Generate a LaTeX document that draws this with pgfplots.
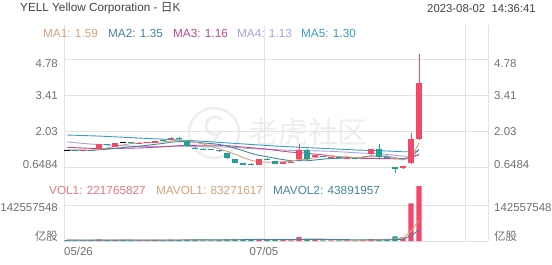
\documentclass[border=0pt]{standalone}
\usepackage{pgfplots}
\pgfplotsset{compat=1.18}
\usepackage{pgfplotstable}
\usepackage{fontspec}
\setmainfont{Liberation Sans}
\newfontfamily\cjk{Noto Sans CJK SC}
\definecolor{upc}{RGB}{242,72,106}
\definecolor{dnc}{RGB}{32,160,150}
\definecolor{maA}{RGB}{214,162,122}
\definecolor{maB}{RGB}{70,132,160}
\definecolor{maC}{RGB}{192,72,142}
\definecolor{maD}{RGB}{166,162,226}
\definecolor{maE}{RGB}{58,155,205}
\definecolor{gridc}{RGB}{226,226,226}
\definecolor{labc}{RGB}{112,112,112}
\definecolor{titc}{RGB}{68,68,68}
\definecolor{volc}{RGB}{236,118,128}
\definecolor{wm}{RGB}{238,238,238}

\pgfplotstableread{
i o h l c
2 1.31 1.34 1.30 1.33
4 1.36 1.56 1.35 1.55
6 1.45 1.60 1.43 1.59
9 1.60 1.62 1.58 1.61
10 1.61 1.65 1.60 1.63
11 1.60 1.69 1.59 1.68
13 1.73 1.82 1.72 1.80
24 0.76 0.99 0.75 0.98
27 0.79 0.87 0.78 0.86
28 0.86 0.90 0.84 0.88
29 0.98 1.55 0.97 1.33
31 1.05 1.14 1.04 1.13
33 1.04 1.07 1.03 1.06
35 1.02 1.05 1.01 1.04
37 1.01 1.05 1.00 1.03
38 1.17 1.38 1.15 1.36
42 0.64 0.73 0.62 0.71
43 0.83 1.97 0.80 1.74
44 1.74 4.99 1.70 3.87
}\upt
\pgfplotstableread{
i o h l c
1 1.32 1.33 1.29 1.30
3 1.33 1.34 1.30 1.31
5 1.55 1.57 1.50 1.52
8 1.62 1.63 1.58 1.60
12 1.70 1.71 1.66 1.68
14 1.79 1.82 1.72 1.76
15 1.67 1.70 1.46 1.48
16 1.42 1.43 1.38 1.40
17 1.38 1.39 1.34 1.36
18 1.35 1.36 1.32 1.33
19 1.31 1.33 1.26 1.29
20 1.21 1.23 1.00 1.02
21 0.98 0.99 0.82 0.83
22 0.83 0.84 0.74 0.75
23 0.80 0.82 0.75 0.78
25 0.99 1.03 0.94 0.97
26 0.90 0.91 0.78 0.79
30 1.33 1.36 0.96 0.98
32 1.10 1.11 1.06 1.08
34 1.06 1.07 1.02 1.04
36 1.04 1.05 1.00 1.02
39 1.36 1.55 1.03 1.05
40 1.07 1.08 1.03 1.05
41 0.68 0.69 0.45 0.60
}\dnt
\pgfplotstableread{
i o h l c
0 1.285 1.31 1.285 1.31
7 1.62 1.645 1.62 1.645
}\flt
\pgfplotstableread{
i v
0 1.308
1 1.314
2 1.32
3 1.32
4 1.36
5 1.406
6 1.462
7 1.522
8 1.578
9 1.588
10 1.608
11 1.626
12 1.636
13 1.676
14 1.71
15 1.682
16 1.626
17 1.562
18 1.468
19 1.372
20 1.28
21 1.166
22 1.044
23 0.936
24 0.874
25 0.866
26 0.858
27 0.88
28 0.898
29 0.968
30 0.968
31 1.036
32 1.08
33 1.114
34 1.056
35 1.066
36 1.044
37 1.034
38 1.096
39 1.098
40 1.102
41 1.018
42 0.954
43 1.03
44 1.594
}\maa
\pgfplotstableread{
i v
0 1.327
1 1.328
2 1.323
3 1.315
4 1.335
5 1.357
6 1.388
7 1.421
8 1.449
9 1.474
10 1.507
11 1.544
12 1.579
13 1.627
14 1.649
15 1.645
16 1.626
17 1.599
18 1.572
19 1.541
20 1.481
21 1.396
22 1.303
23 1.202
24 1.123
25 1.073
26 1.012
27 0.962
28 0.917
29 0.921
30 0.917
31 0.947
32 0.98
33 1.006
34 1.012
35 1.017
36 1.04
37 1.057
38 1.105
39 1.077
40 1.084
41 1.031
42 0.994
43 1.063
44 1.346
}\mab
\pgfplotstableread{
i v
0 1.435
1 1.418
2 1.404
3 1.39
4 1.388
5 1.384
6 1.386
7 1.393
8 1.399
9 1.406
10 1.417
11 1.436
12 1.451
13 1.471
14 1.492
15 1.501
16 1.507
17 1.51
18 1.511
19 1.508
20 1.494
21 1.47
22 1.441
23 1.415
24 1.386
25 1.359
26 1.319
27 1.281
28 1.245
29 1.231
30 1.199
31 1.172
32 1.142
33 1.104
34 1.068
35 1.045
36 1.026
37 1.01
38 1.011
39 0.999
40 1.001
41 0.989
42 0.987
43 1.035
44 1.16
}\mac
\pgfplotstableread{
i v
0 1.637
1 1.607
2 1.58
3 1.554
4 1.535
5 1.518
6 1.504
7 1.492
8 1.48
9 1.468
10 1.459
11 1.46
12 1.462
13 1.469
14 1.475
15 1.471
16 1.466
17 1.461
18 1.456
19 1.451
20 1.438
21 1.423
22 1.402
23 1.381
24 1.369
25 1.358
26 1.342
27 1.327
28 1.313
29 1.312
30 1.302
31 1.296
32 1.287
33 1.278
34 1.261
35 1.245
36 1.226
37 1.206
38 1.198
39 1.18
40 1.161
41 1.125
42 1.092
43 1.09
44 1.13
}\mad
\pgfplotstableread{
i v
0 1.90
2 1.88
4 1.86
6 1.83
8 1.80
10 1.77
12 1.74
14 1.71
16 1.68
18 1.64
20 1.60
22 1.56
24 1.52
26 1.48
28 1.45
30 1.42
32 1.39
34 1.36
36 1.33
38 1.31
40 1.29
42 1.26
43 1.26
44 1.30
}\mae
\pgfplotstableread{
i v
2 3.0
4 6.5
6 5.0
9 2.5
10 3.0
11 4.5
13 6.0
24 8.0
27 3.5
28 3.0
29 16.0
31 5.0
33 3.0
35 3.5
37 3.5
38 8.0
42 15.0
43 152.0
44 221.765827
}\vup
\pgfplotstableread{
i v
0 3.5
1 2.8
3 2.6
5 3.2
7 4.0
8 3.0
12 3.0
14 4.0
15 7.0
16 4.0
17 3.0
18 3.0
19 4.0
20 8.0
21 9.0
22 7.0
23 5.0
25 4.0
26 5.0
30 9.0
32 3.0
34 2.5
36 3.0
39 4.5
40 8.6
41 19.0
}\vdn
\pgfplotstableread{
i v
0 3.4
1 3.3
2 3.2
3 3.1
4 3.7
5 3.6
6 4.1
7 4.3
8 4.3
9 3.5
10 3.5
11 3.4
12 3.2
13 3.8
14 4.1
15 4.9
16 4.8
17 4.8
18 4.2
19 4.2
20 4.4
21 5.4
22 6.2
23 6.6
24 7.4
25 6.6
26 5.8
27 5.1
28 4.7
29 6.3
30 7.3
31 7.3
32 7.3
33 7.2
34 4.5
35 3.4
36 3.0
37 3.1
38 4.1
39 4.5
40 5.5
41 8.7
42 11.0
43 39.8
44 83.27
}\mva
\pgfplotstableread{
i v
0 3.5
2 3.4
4 3.5
6 3.7
8 3.8
10 3.6
12 3.6
14 3.8
16 4.4
18 4.3
20 4.6
22 5.3
24 5.8
26 5.6
28 5.6
30 6.6
32 6.4
34 5.6
36 5.1
38 4.9
40 4.46
41 5.86
42 7.06
43 21.96
44 43.89
}\mvb

\pgfplotsset{
  kbase/.style={scale only axis, width=424bp, xmin=-0.375, xmax=52.625,
    axis line style={draw=none}, tick style={draw=none}, major tick length=0pt,
    xtick={-0.375,24.6875,49.75,52.625}, xticklabels={}, yticklabels={},
    xmajorgrids, ymajorgrids, grid style={gridc, line width=0.8bp}},
  wick/.style={only marks, mark=*, mark size=0pt, mark options={draw=none, fill=none, opacity=0}, forget plot,
    error bars/.cd, y dir=plus, y explicit, error mark=none,
    error bar style={line width=1bp, draw=#1, opacity=1}},
  body/.style={only marks, mark=*, mark size=0pt, mark options={draw=none, fill=none, opacity=0}, forget plot,
    error bars/.cd, y dir=both, y explicit, error mark=none,
    error bar style={line width=5.4bp, draw=#1, opacity=1}},
}
\newcommand{\lab}{\fontsize{11.5}{12}\selectfont}
\newcommand{\leg}{\fontsize{11.8}{12}\selectfont}

\begin{document}
\begin{tikzpicture}
\path[use as bounding box, fill=white] (0,0) rectangle (552bp,-265bp);
% watermark
\draw[wm, line width=2.5bp] (214bp,-133bp) circle (25bp);
\draw[wm, line width=2.5bp] (222bp,-120bp) arc (40:300:9bp) -- (206bp,-150bp);
\node[anchor=center, inner sep=0, text=wm, font=\cjk\fontsize{30}{30}\selectfont] at (308bp,-132bp) {老虎社区};

% price panel
\begin{axis}[kbase, at={(64bp,-180bp)}, anchor=south west, height=155bp,
  ymin=0.183, ymax=6.099, ytick={0.6484,2.03,3.41,4.78}]
\addplot[maE, line width=0.9bp, mark=none] table[x=i,y=v]{\mae};
\addplot[maD, line width=0.9bp, mark=none] table[x=i,y=v]{\mad};
\addplot[maC, line width=0.9bp, mark=none] table[x=i,y=v]{\mac};
\addplot[maB, line width=0.9bp, mark=none] table[x=i,y=v]{\mab};
\addplot[maA, line width=0.9bp, mark=none] table[x=i,y=v]{\maa};
\addplot[wick=upc] table[x=i, y=l, y error expr={\thisrow{h}-\thisrow{l}}]{\upt};
\addplot[wick=dnc] table[x=i, y=l, y error expr={\thisrow{h}-\thisrow{l}}]{\dnt};
\addplot[body=upc] table[x=i, y=o, y error plus expr={max(\thisrow{c}-\thisrow{o},0)}, y error minus expr={max(\thisrow{o}-\thisrow{c},0)}]{\upt};
\addplot[body=dnc] table[x=i, y=o, y error plus expr={max(\thisrow{c}-\thisrow{o},0)}, y error minus expr={max(\thisrow{o}-\thisrow{c},0)}]{\dnt};
\addplot[body=black] table[x=i, y=o, y error plus expr={max(\thisrow{c}-\thisrow{o},0)}, y error minus expr={max(\thisrow{o}-\thisrow{c},0)}]{\flt};
\end{axis}

% volume panel
\begin{axis}[kbase, at={(64bp,-241bp)}, anchor=south west, height=61bp,
  ymin=0, ymax=246.3, ytick={0,142.557548}]
\addplot[ybar, bar width=5.4bp, bar shift=0pt, fill=upc, draw=none] table[x=i,y=v]{\vup};
\addplot[ybar, bar width=5.4bp, bar shift=0pt, fill=dnc, draw=none] table[x=i,y=v]{\vdn};
\addplot[maA, line width=0.9bp, mark=none] table[x=i,y=v]{\mva};
\addplot[maB, line width=0.9bp, mark=none] table[x=i,y=v]{\mvb};
\end{axis}

% header
\node[anchor=west, inner sep=0, text=titc, font=\leg] at (20bp,-8.5bp) {YELL Yellow Corporation - {\cjk 日}K};
\node[anchor=east, inner sep=0, text=titc, font=\fontsize{11.4}{12}\selectfont] at (536bp,-8.5bp) {2023-08-02\ \ 14:36:41};
\node[anchor=west, inner sep=0, text=maA, font=\leg] at (43bp,-33bp) {MA1: 1.59};
\node[anchor=west, inner sep=0, text=maB, font=\leg] at (108bp,-33bp) {MA2: 1.35};
\node[anchor=west, inner sep=0, text=maC, font=\leg] at (173bp,-33bp) {MA3: 1.16};
\node[anchor=west, inner sep=0, text=maD, font=\leg] at (237bp,-33bp) {MA4: 1.13};
\node[anchor=west, inner sep=0, text=maE, font=\leg] at (301bp,-33bp) {MA5: 1.30};
\node[anchor=west, inner sep=0, text=volc, font=\leg] at (49bp,-190.7bp) {VOL1: 221765827};
\node[anchor=west, inner sep=0, text=maA, font=\leg] at (156bp,-190.7bp) {MAVOL1: 83271617};
\node[anchor=west, inner sep=0, text=maB, font=\leg] at (273bp,-190.7bp) {MAVOL2: 43891957};

% y labels
\foreach \t/\y in {4.78/64, 3.41/95.7, 2.03/131.7, 0.6484/165, 142557548/207.7}{
  \node[anchor=east, inner sep=0, text=labc, font=\lab] at (58bp,-\y bp) {\t};
  \node[anchor=west, inner sep=0, text=labc, font=\lab] at (494bp,-\y bp) {\t};
}
\node[anchor=east, inner sep=0, text=labc, font=\cjk\lab] at (58bp,-235.7bp) {亿股};
\node[anchor=west, inner sep=0, text=labc, font=\cjk\lab] at (494bp,-235.7bp) {亿股};
% x labels
\node[anchor=west, inner sep=0, text=labc, font=\lab] at (64bp,-251.7bp) {05/26};
\node[anchor=center, inner sep=0, text=labc, font=\lab] at (264bp,-251.7bp) {07/05};
\end{tikzpicture}
\end{document}
